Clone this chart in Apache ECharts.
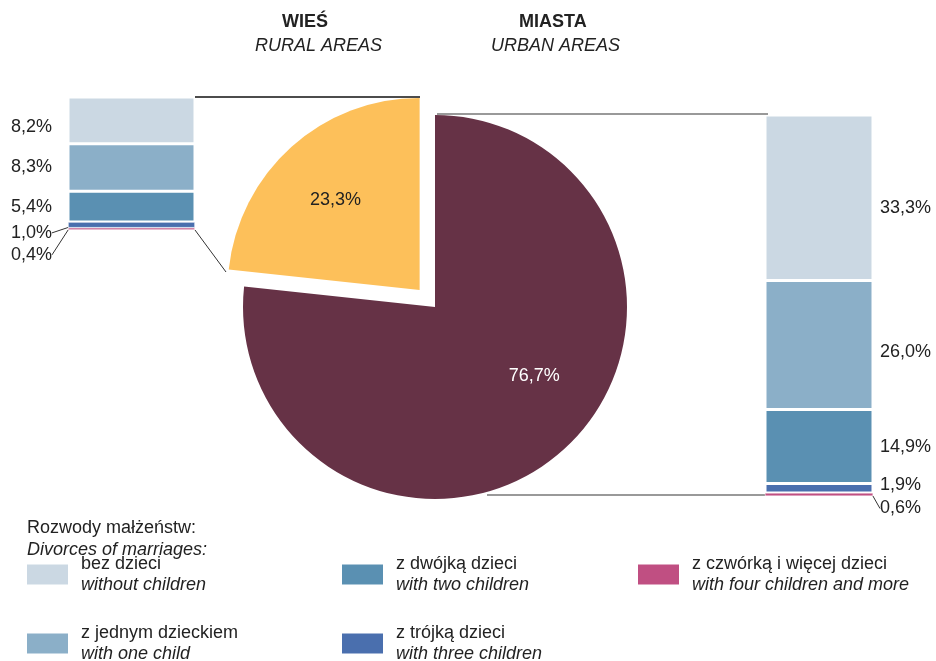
<!DOCTYPE html>
<html>
<head>
<meta charset="utf-8">
<script src="https://cdn.jsdelivr.net/npm/echarts@6/dist/echarts.min.js"></script>
<style>
html, body { margin: 0; padding: 0; background: #fff; }
#chart { width: 936px; height: 661px; }
</style>
</head>
<body>
<div id="chart"></div>
<script>
var categories = ['bez dzieci', 'z jednym dzieckiem', 'z dwójką dzieci', 'z trójką dzieci', 'z czwórką i więcej dzieci'];
var categoriesEn = ['without children', 'with one child', 'with two children', 'with three children', 'with four children and more'];
var ruralValues = [8.2, 8.3, 5.4, 1.0, 0.4];
var urbanValues = [33.3, 26.0, 14.9, 1.9, 0.6];
var pieNames = ['MIASTA', 'WIEŚ'];
var pieValues = [76.7, 23.3];
var barColors = ['#cbd8e3', '#8bafc8', '#5a90b2', '#4a6fae', '#c04f82'];
var pieColors = ['#663246', '#fdc05a'];

var font = 'Liberation Sans, Arial, sans-serif';
var fs = 18;

// label nudges, in px
var ruralShift = [ { dy : 7 }, null, null, { dy : 8 }, { dy : 26 } ];
var urbanShift = [ { dy : 10 }, { dy : 7 }, null, { dy : -3 }, { dy : 14 } ];

function pct(v) {
	return v.toFixed(1).replace('.', ',') + '%';
}

var series = [];
// bottom segment first so it stacks at the bottom
for (var i = categories.length - 1; i >= 0; i--) {
	var small = i >= 3;
	series.push({
		name : categories[i],
		type : 'bar',
		xAxisIndex : 0,
		yAxisIndex : 0,
		stack : 'rural',
		barWidth : '100%',
		data : [ ruralValues[i] ],
		itemStyle : {
			color : barColors[i],
			borderColor : '#fff',
			borderWidth : small ? 0.6 : 1.5
		},
		label : {
			show : true,
			position : 'left',
			distance : 16,
			fontFamily : font,
			fontSize : fs,
			color : '#222',
			formatter : function(p) { return pct(p.value); }
		},
		labelLayout : ruralShift[i],
		labelLine : { show : small, lineStyle : { color : '#333', width : 1 } },
		emphasis : { disabled : true }
	});
	series.push({
		name : categories[i],
		type : 'bar',
		xAxisIndex : 1,
		yAxisIndex : 1,
		stack : 'urban',
		barWidth : '100%',
		data : [ urbanValues[i] ],
		itemStyle : {
			color : barColors[i],
			borderColor : '#fff',
			borderWidth : i == 4 ? 0.4 : 1.5
		},
		label : {
			show : true,
			position : 'right',
			distance : 7,
			fontFamily : font,
			fontSize : fs,
			color : '#222',
			formatter : function(p) { return pct(p.value); }
		},
		labelLayout : urbanShift[i],
		labelLine : { show : i == 4, lineStyle : { color : '#333', width : 1 } },
		emphasis : { disabled : true }
	});
}

series.push({
	name : 'pie',
	type : 'pie',
	center : [ 435, 307 ],
	radius : 192,
	startAngle : 90,
	clockwise : true,
	selectedMode : 'single',
	selectedOffset : 23,
	data : [ {
		name : pieNames[0],
		value : pieValues[0],
		itemStyle : { color : pieColors[0] },
		label : { color : '#fff' }
	}, {
		name : pieNames[1],
		value : pieValues[1],
		selected : true,
		itemStyle : { color : pieColors[1] },
		label : { color : '#222' }
	} ],
	label : {
		show : true,
		position : 'inside',
		fontFamily : font,
		fontSize : fs,
		formatter : function(p) { return pct(p.value); }
	},
	labelLayout : function(p) {
		return p.dataIndex == 0 ? { dx : 33, dy : -5 } : { dx : -18, dy : -16 };
	},
	emphasis : { disabled : true },
	animation : false
});

function legendFor(names, left) {
	return {
		orient : 'vertical',
		left : left,
		top : 555,
		height : 150,
		padding : 0,
		itemWidth : 43,
		itemHeight : 22,
		itemGap : 30,
		icon : 'rect',
		selectedMode : false,
		data : names,
		formatter : function(name) {
			var k = categories.indexOf(name);
			return '{a|' + name + '}\n{b|' + categoriesEn[k] + '}';
		},
		textStyle : {
			fontFamily : font,
			fontSize : fs,
			color : '#222',
			rich : {
				a : { fontFamily : font, fontSize : fs, lineHeight : 21, color : '#222', padding : [ 0, 0, 0, 7 ] },
				b : { fontFamily : font, fontSize : fs, lineHeight : 21, color : '#222', fontStyle : 'italic', padding : [ 0, 0, 0, 7 ] }
			}
		}
	};
}

function txt(x, y, s, bold, italic) {
	return {
		type : 'text',
		left : x,
		top : y,
		style : {
			text : s,
			fontFamily : font,
			fontSize : fs,
			fontWeight : bold ? 'bold' : 'normal',
			fontStyle : italic ? 'italic' : 'normal',
			fill : '#222'
		}
	};
}

function line(x1, y1, x2, y2, c, w) {
	return {
		type : 'line',
		shape : { x1 : x1, y1 : y1, x2 : x2, y2 : y2 },
		style : { stroke : c, lineWidth : w },
		z : 0
	};
}

var chart = echarts.init(document.getElementById('chart'));
var option = {
	animation : false,
	grid : [
		{ left : 68, width : 127, top : 97, height : 133 },
		{ left : 765, width : 108, top : 115, height : 381 }
	],
	xAxis : [
		{ type : 'category', gridIndex : 0, data : [ 'WIEŚ' ], show : false },
		{ type : 'category', gridIndex : 1, data : [ 'MIASTA' ], show : false }
	],
	yAxis : [
		{ type : 'value', gridIndex : 0, min : 0, max : 23.3, show : false },
		{ type : 'value', gridIndex : 1, min : 0, max : 76.7, show : false }
	],
	legend : [
		legendFor([ categories[0], categories[1] ], 25),
		legendFor([ categories[2], categories[3] ], 340),
		legendFor([ categories[4] ], 636)
	],
	graphic : [
		txt(282, 13, 'WIEŚ', true, false),
		txt(255, 37, 'RURAL AREAS', false, true),
		txt(519, 13, 'MIASTA', true, false),
		txt(491, 37, 'URBAN AREAS', false, true),
		txt(27, 519, 'Rozwody małżeństw:', false, false),
		txt(27, 541, 'Divorces of marriages:', false, true),
		line(195, 97, 420, 97, '#111', 1.5),
		line(195, 230, 226, 272, '#333', 1),
		line(437, 114, 768, 114, '#777', 1.5),
		line(487, 495, 765, 495, '#777', 1.5)
	],
	series : series
};
chart.setOption(option);
</script>
</body>
</html>
